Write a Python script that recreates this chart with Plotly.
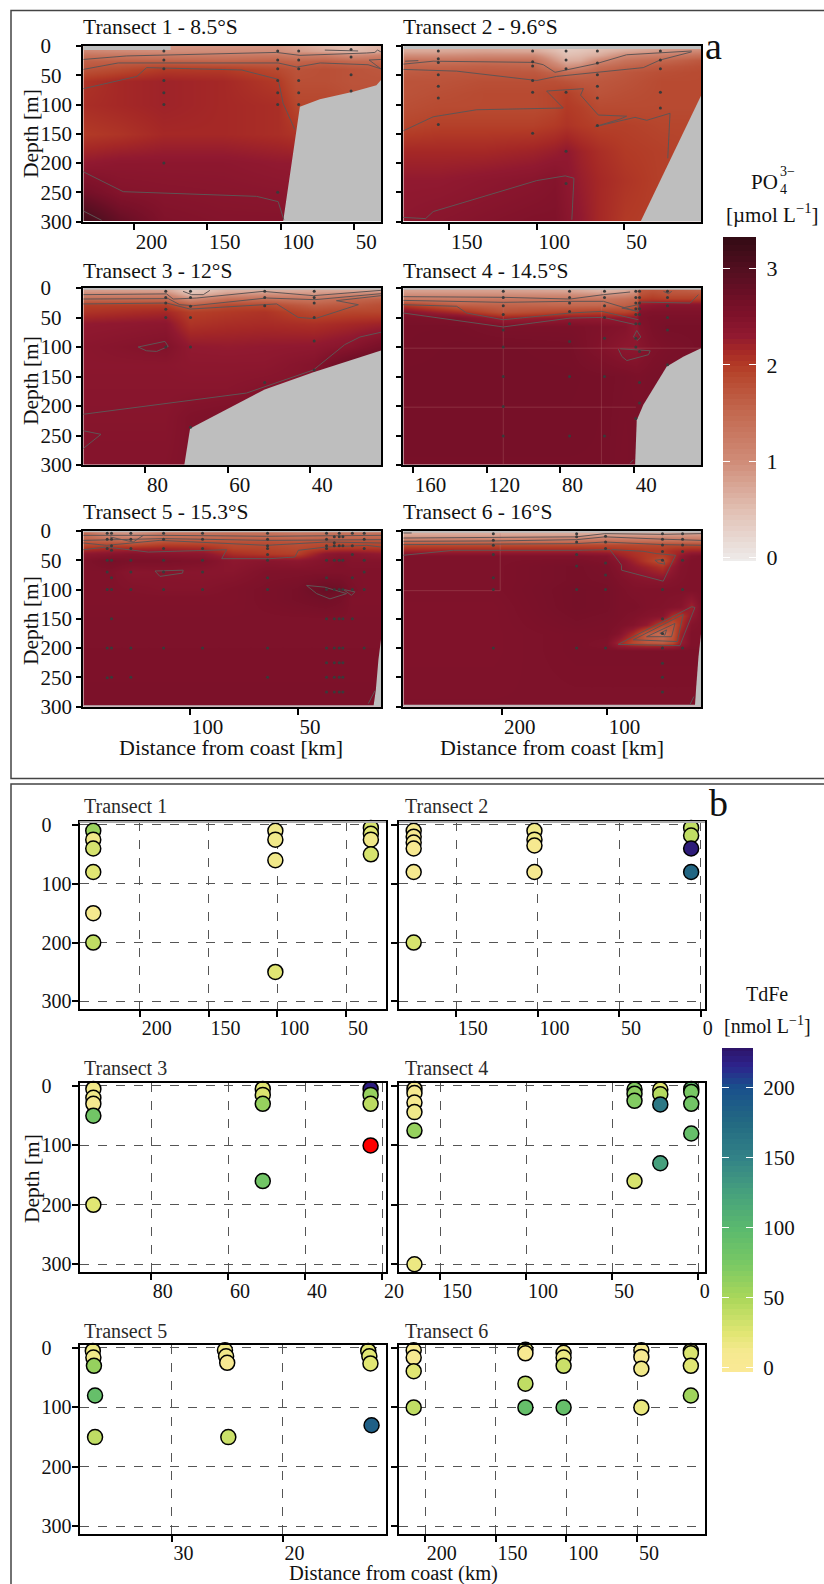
import numpy as np
import plotly.graph_objects as go

W, H = 824, 1584
FONT = "Liberation Serif"

# ---------- Colour scales (value, colour) ----------
PO4_STOPS = [(-0.04, "#eeeceb"), (0.5, "#e1bfb2"), (1.0, "#d08c78"), (1.5, "#c36950"), (1.9, "#b6462d"),
             (2.0, "#b23a26"), (2.15, "#a52826"), (2.3, "#911930"), (2.5, "#80122a"), (2.62, "#761028"),
             (2.8, "#640f24"), (3.0, "#520f20"), (3.33, "#320a14")]
FE_STOPS = [(-3, "#fbe996"), (12, "#f5e98f"), (25, "#e1e673"), (50, "#aad75a"), (75, "#78c864"), (100, "#5ab96e"),
            (125, "#46a07d"), (150, "#328287"), (175, "#236982"), (200, "#19508c"), (215, "#2d238c"),
            (228, "#2d1469")]

# ---------- Transect 1 ----------
T1_KM = [234.5, 210, 180, 140, 102, 90, 70, 52, 31.6]
T1_DEPTH = [0, 8, 15, 25, 40, 60, 100, 150, 200, 250, 300]
T1_PO4 = [
    [.9, .9, .9, .9, .9, .8, .6, .5, .6],
    [1.1, 1.05, 1.0, 1.0, 1.0, .9, .75, .55, .7],
    [1.35, 1.3, 1.25, 1.25, 1.3, 1.2, 1.2, 1.0, 1.15],
    [1.6, 1.6, 1.6, 1.55, 1.6, 1.55, 1.6, 1.5, 1.5],
    [1.75, 1.85, 2.0, 2.0, 1.85, 1.75, 1.8, 1.75, 1.7],
    [2.05, 2.15, 2.2, 2.15, 2.0, 1.8, 1.8, 1.75, 1.75],
    [2.1, 2.15, 2.2, 2.15, 2.1, 1.9, 1.9, 1.8, 1.8],
    [2.0, 2.05, 2.15, 2.15, 2.1, 2.05, 2.0, 2.0, 2.0],
    [2.3, 2.35, 2.35, 2.35, 2.3, 2.3, 2.2, 2.2, 2.2],
    [2.65, 2.45, 2.42, 2.4, 2.38, 2.35, 2.2, 2.2, 2.2],
    [3.2, 2.8, 2.5, 2.45, 2.45, 2.4, 2.2, 2.2, 2.2],
]
T1_BATHY_KM = [31.6, 34.7, 50.6, 73.3, 86.9, 98.3, 31.6]
T1_BATHY_M = [58, 67, 78, 91, 104, 300, 300]
T1_STRIPS = [([234.5, 175, 175, 234.5], [0, 0, 7, 7])]
T1_CONTOURS = [
    ([234.5, 205, 102.8, 86.9, 41.5, 35.8, 34, 31.7], [23, 17, 11, 16, 12, 11, 7, 10]),
    ([234.5, 210.7, 101.7, 89, 73, 40.4, 31.7], [40, 29, 29, 36, 29, 32, 39]),
    ([234.5, 198, 191.4, 126.6, 101.7, 98.3, 90.3], [73, 52, 37, 41, 57, 98, 143]),
    ([69.9, 47.2], [7, 8.5]),
    ([31.7, 39.7, 31.7], [23, 24, 39]),
    ([234.5, 207.3, 116.4, 101.7, 97.8], [215, 249, 257, 266, 297]),
    ([234.5, 222], [282, 298]),
]
T1_STATIONS = [(179.6, [8.5, 24, 39, 59, 80, 100, 200]), (102, [8.5, 24, 39, 59, 80, 100, 250]),
               (87.7, [8.5, 24, 39, 59, 80, 100]), (52, [6, 19, 49, 77])]

# ---------- Transect 2 ----------
T2_KM = [176.3, 156, 130, 102, 90, 83, 75, 65, 50, 29, 6.2]
T2_DEPTH = [4, 8, 15, 25, 35, 45, 60, 80, 105, 135, 180, 230, 300]
T2_PO4 = [
    [.65, .65, .7, .65, .5, .35, .4, .5, .6, .8, .9],
    [.75, .75, .8, .75, .55, .4, .45, .55, .75, .9, 1.1],
    [1.0, 1.0, 1.05, 1.05, .7, .5, .55, .7, 1.05, 1.2, 1.4],
    [1.4, 1.35, 1.4, 1.4, .9, .65, .7, 1.05, 1.35, 1.5, 1.7],
    [1.55, 1.55, 1.6, 1.55, 1.2, .95, 1.05, 1.4, 1.55, 1.7, 1.8],
    [1.65, 1.7, 1.7, 1.7, 1.55, 1.45, 1.5, 1.6, 1.7, 1.8, 1.85],
    [1.75, 1.75, 1.8, 1.8, 1.8, 1.75, 1.7, 1.7, 1.75, 1.85, 1.85],
    [1.75, 1.8, 1.85, 1.85, 1.9, 1.95, 1.85, 1.75, 1.8, 1.85, 1.85],
    [1.8, 1.85, 1.85, 1.85, 1.9, 2.0, 1.95, 1.85, 1.85, 1.85, 1.85],
    [1.9, 1.95, 1.95, 1.95, 2.0, 2.05, 2.0, 1.95, 1.95, 1.9, 1.9],
    [2.15, 2.15, 2.15, 2.2, 2.25, 2.3, 2.2, 2.1, 2.0, 1.95, 1.9],
    [2.3, 2.3, 2.35, 2.4, 2.45, 2.35, 2.25, 2.15, 2.05, 1.95, 1.9],
    [2.35, 2.4, 2.45, 2.5, 2.5, 2.4, 2.3, 2.15, 2.0, 1.95, 1.9],
]
T2_BATHY_KM = [6.2, 40.7, 6.2]
T2_BATHY_M = [85, 300, 300]
T2_STRIPS = [([176.3, 6.2, 6.2, 176.3], [0, 0, 5, 5])]
T2_CONTOURS = [
    ([175.3, 167.7], [26, 25]),
    ([176.3, 159.2, 102, 96.3, 89.6, 65.8, 48.7, 11.5], [31, 26, 28, 32, 45, 30, 15, 8.5]),
    ([176.3, 145.8, 100, 88.7, 39.2, 29.6, 11.5], [40, 43, 59, 52, 37, 24, 10]),
    ([176.3, 159.2, 134.4, 84.9, 94.4, 73.4, 75, 64.9, 48.7, 52.5, 66.8, 43.9, 37.2, 23.9, 25.2],
     [145, 121, 109, 106, 77, 73, 84, 118, 120, 125, 138, 122, 127, 115, 192]),
    ([163.9, 159.2, 100, 83.8, 78.8, 80], [296, 283, 230, 222, 226, 297]),
    ([176.3, 163.9], [293, 295]),
]
T2_STATIONS = [(156.3, [8.5, 22, 28, 49, 69, 89, 134]), (102.4, [8.5, 27, 34, 59, 79, 149]),
               (83.3, [8.5, 24, 39, 79, 180, 235]), (65.4, [8.5, 29, 49, 69, 89, 136]),
               (29.4, [8.5, 24, 39, 79, 106])]

# ---------- Transect 3 ----------
T3_KM = [95, 75, 69, 60, 51, 39, 30, 22.8]
T3_DEPTH = [4, 10, 18, 28, 40, 60, 100, 130, 170, 220, 300]
T3_PO4 = [
    [.85, .8, .35, .65, .65, .75, .75, .75],
    [1.05, 1.05, .5, .85, .95, .9, 1.05, 1.15],
    [1.45, 1.45, 1.0, 1.4, 1.4, 1.3, 1.5, 1.6],
    [1.95, 1.95, 1.6, 1.85, 1.85, 1.6, 1.7, 1.8],
    [2.05, 2.15, 1.95, 2.0, 2.05, 1.85, 1.9, 1.9],
    [2.3, 2.35, 2.05, 2.1, 2.12, 2.08, 2.15, 2.2],
    [2.38, 2.48, 2.3, 2.28, 2.3, 2.32, 2.42, 2.6],
    [2.38, 2.38, 2.35, 2.35, 2.35, 2.45, 2.8, 2.9],
    [2.4, 2.4, 2.4, 2.4, 2.45, 2.45, 2.8, 2.9],
    [2.42, 2.42, 2.5, 2.55, 2.6, 2.6, 2.8, 2.9],
    [2.45, 2.45, 2.5, 2.6, 2.6, 2.6, 2.8, 2.9],
]
T3_BATHY_KM = [22.8, 39.2, 51, 69.1, 70.5, 22.8]
T3_BATHY_M = [106, 143, 172, 238, 300, 300]
T3_STRIPS = [([95, 22.8, 22.8, 95], [0, 0, 3, 3])]
T3_CONTOURS = [
    ([95, 74.8, 73.2, 67.5, 51.4, 39.2, 22.8], [11.3, 10, 18.7, 17, 5.7, 13, 4]),
    ([95, 74.4, 71.6, 68.3, 50.6, 38.8, 22.8], [18.7, 18, 28.3, 30, 17, 19.8, 9.6]),
    ([95, 74.8, 69.1, 48.1, 42.9, 38.8, 28.3, 33.6, 22.8], [27, 25.5, 35.7, 27, 49.8, 52, 28.3, 21.5, 13]),
    ([70.8, 68.7, 65.9, 64.3], [5.7, 11.3, 11.3, 4]),
    ([81.7, 75.2, 74.4, 77.2, 79.7, 81.7], [100, 90.5, 99, 107.5, 106.4, 100]),
    ([95, 55.4, 39.2, 31.6, 27.9, 22.8], [214, 178, 139, 96, 83, 75]),
    ([95, 90.7, 95], [242, 248, 272]),
]
T3_STATIONS = [(75, [5.6, 16, 25.5, 36, 50, 100]), (69, [5.6, 16, 31, 50, 100, 236]),
               (51, [5.6, 16, 30, 160]), (39, [5.6, 16, 25.5, 50, 90, 139])]

# ---------- Transect 4 ----------
T4_KM = [165.3, 136, 111, 75, 56, 45, 39, 37, 30, 21.8, 3.6]
T4_DEPTH = [4, 10, 18, 28, 40, 50, 65, 100, 150, 300]
T4_PO4 = [
    [.8, .8, .8, .75, .6, .7, .9, 1.7, 1.75, 1.7, 1.6],
    [.95, .95, .95, .95, .85, .95, 1.1, 1.75, 1.85, 1.75, 1.75],
    [1.25, 1.25, 1.3, 1.3, 1.3, 1.4, 1.5, 1.95, 2.0, 1.95, 1.95],
    [2.0, 1.6, 1.55, 1.5, 1.5, 1.6, 1.7, 2.3, 2.35, 2.4, 2.4],
    [2.4, 2.1, 1.75, 1.9, 1.95, 1.9, 2.0, 2.45, 2.5, 2.5, 2.5],
    [2.55, 2.5, 2.2, 2.3, 2.3, 2.3, 2.3, 2.5, 2.55, 2.55, 2.55],
    [2.6, 2.6, 2.55, 2.55, 2.5, 2.45, 2.3, 2.45, 2.55, 2.6, 2.6],
    [2.6, 2.62, 2.62, 2.6, 2.45, 2.35, 2.35, 2.4, 2.5, 2.55, 2.6],
    [2.62, 2.62, 2.62, 2.62, 2.6, 2.58, 2.55, 2.55, 2.58, 2.6, 2.6],
    [2.6, 2.6, 2.6, 2.6, 2.6, 2.55, 2.6, 2.6, 2.6, 2.6, 2.6],
]
T4_BATHY_KM = [3.6, 13, 22.2, 27.6, 34.9, 38.5, 39.4, 3.6]
T4_BATHY_M = [102, 116, 133, 161, 198, 224, 300, 300]
T4_STRIPS = [([165.3, 3.6, 3.6, 165.3], [0, 0, 3, 3])]
T4_CONTOURS = [
    ([165.3, 111, 74.7, 56.6, 42.1], [14.7, 15.8, 18.7, 11.3, 6.8]),
    ([165.3, 111, 74.7, 56.6, 38.5], [21, 24.3, 22.6, 22.6, 39.6]),
    ([165.3, 136.3, 130.9, 111, 74.7, 57.5, 37.6], [28.3, 31, 42.4, 53.8, 42.4, 39.6, 53.8]),
    ([165.3, 111, 74.7, 56.6, 39.4], [42.4, 66, 51, 49.8, 62]),
    ([36.7, 9.5, 5], [23.8, 25.5, 11.3]),
    ([24, 21.3, 19.5], [5.7, 9.6, 5.7]),
    ([46.6, 37.6, 37.6, 46.6], [34, 28.3, 39.6, 34]),
    ([40.3, 38.5, 36.3, 38.1, 40.3], [83, 72, 83, 89, 83]),
    ([47.5, 31.2, 32.1, 43.9, 46.6, 48.5], [103, 106.4, 113, 123, 116, 103.6]),
    ([42.1, 40.3], [297, 291]),
]
T4_FAINT = [([165.3, 3.6], [102, 102]), ([165.3, 39], [202, 202]), ([111, 111], [4, 300]), ([57.7, 57.7], [4, 300])]
T4_STATIONS = [(111, [5.6, 16, 30, 45, 71, 100, 150, 201, 251]), (75, [5.6, 16, 25.5, 40, 60.5, 90.5, 150, 251]),
               (56, [5.6, 16, 30, 50, 85, 150, 251]), (39, [5.6, 16, 25.5, 35, 45, 60.5, 85, 100, 221]),
               (37, [5.6, 16, 25.5, 35, 45, 60.5, 107.5, 160, 195]), (21.8, [5.6, 16, 30, 50, 71, 130])]

# ---------- Transect 5 ----------
T5_KM = [149.6, 137, 127, 112, 94, 80, 64, 50, 37, 30, 25, 19, 11.3]
T5_DEPTH = [4, 10, 18, 28, 38, 50, 70, 100, 115, 150, 298]
T5_PO4 = [
    [1.5, 1.0, .9, 1.3, 1.35, 1.4, 1.4, 1.3, 1.35, 1.4, 1.4, 1.35, 1.4],
    [1.5, 1.2, 1.1, 1.4, 1.45, 1.5, 1.5, 1.45, 1.5, 1.5, 1.5, 1.5, 1.5],
    [1.7, 1.65, 1.6, 1.8, 1.8, 1.8, 1.8, 1.75, 1.8, 1.8, 1.8, 1.8, 1.8],
    [2.0, 2.1, 2.1, 2.15, 2.1, 1.9, 1.9, 1.85, 1.95, 2.0, 2.0, 2.0, 2.0],
    [2.35, 2.4, 2.45, 2.4, 2.35, 2.1, 2.0, 1.95, 2.35, 2.4, 2.4, 2.35, 2.3],
    [2.5, 2.6, 2.55, 2.55, 2.5, 2.35, 2.4, 2.35, 2.45, 2.5, 2.45, 2.45, 2.45],
    [2.5, 2.5, 2.4, 2.42, 2.4, 2.4, 2.5, 2.5, 2.5, 2.5, 2.5, 2.5, 2.5],
    [2.5, 2.5, 2.48, 2.45, 2.45, 2.5, 2.55, 2.6, 2.75, 2.7, 2.55, 2.5, 2.5],
    [2.5, 2.5, 2.5, 2.5, 2.5, 2.5, 2.55, 2.6, 2.65, 2.6, 2.5, 2.5, 2.5],
    [2.52, 2.52, 2.52, 2.52, 2.52, 2.52, 2.52, 2.52, 2.52, 2.52, 2.52, 2.52, 2.52],
    [2.55, 2.55, 2.55, 2.55, 2.55, 2.55, 2.55, 2.55, 2.55, 2.55, 2.55, 2.55, 2.55],
]
T5_BATHY_KM = [11.3, 12.5, 13.7, 14.8, 11.3]
T5_BATHY_M = [185, 220, 272, 300, 300]
T5_STRIPS = [([149.6, 11.3, 11.3, 149.6], [0, 0, 2, 2]), ([149.6, 11.3, 11.3, 149.6], [298, 298, 300, 300])]
T5_CONTOURS = [
    ([149.6, 112.4, 64.4, 11.3], [7.4, 7.4, 9, 7.4]),
    ([149.6, 112.4, 64.4, 11.3], [16, 13, 16, 14.8]),
    ([149.6, 138.8, 114, 64.4, 36.6, 11.3], [20.5, 24.5, 16, 24.5, 18.8, 20.5]),
    ([149.6, 138.8, 119.4, 83, 85.3, 62.9, 51.3, 49.7, 36.6, 18, 11.3], [32, 27.4, 36, 32, 47.3, 47.3, 44.5, 33, 27.4, 24.5, 27.4]),
    ([137.2, 126.4, 121.7], [10.3, 18.8, 7.4]),
    ([116.3, 103.2, 103.5, 114, 116.3], [68.4, 67, 72, 77.6, 68.4]),
    ([45.9, 37.4, 27.3, 35, 41.2, 45.9], [93, 96, 107, 116, 107, 93]),
    ([28.8, 23.4, 25, 28.8], [100, 104, 110, 100]),
    ([17.2, 14.1], [295, 273]),
]
T5_STATIONS = [
    (138.5, [4, 14, 30, 50, 70, 100, 200, 251]), (136.5, [4, 14, 25, 33, 50, 80, 100, 150, 200, 250]),
    (127.5, [4, 14, 30, 50, 70, 100, 200, 250]), (112.3, [4, 14, 30, 50, 70, 100, 200]),
    (94.2, [4, 14, 30, 50, 70, 100, 200]), (64, [4, 14, 25, 30, 40, 50, 80, 100, 200, 250]),
    (36.6, [4, 14, 25, 30, 50, 80, 100, 150, 200, 225, 250, 275]), (33, [10, 20, 25, 50, 100, 150, 200, 225, 250, 275]),
    (30.7, [4, 10, 25, 50, 100, 150, 200, 225, 250, 275]), (29, [10, 25, 50, 100, 150, 200, 225, 250, 275]),
    (24.6, [4, 25, 40, 80, 100, 150]), (19.1, [4, 14, 30, 50, 70, 100, 200])]

# ---------- Transect 6 ----------
T6_KM = [294.6, 208.6, 129, 101, 89, 75, 62, 47, 38, 30, 19, 10.2]
T6_DEPTH = [4, 10, 16, 24, 33, 42, 50, 60, 85, 100, 130, 145, 160, 175, 190, 196, 205, 297]
T6_PO4 = [
    [.7, .7, .7, .7, .7, .7, .7, .7, .75, .75, .8, .8],
    [.9, .9, .95, 1.05, 1.05, 1.05, 1.05, 1.05, 1.05, 1.05, 1.05, 1.05],
    [1.35, 1.35, 1.35, 1.4, 1.4, 1.4, 1.4, 1.4, 1.4, 1.4, 1.4, 1.4],
    [1.85, 1.85, 1.85, 1.85, 1.85, 1.85, 1.85, 1.85, 1.85, 1.85, 1.85, 1.85],
    [2.2, 2.2, 2.2, 2.15, 2.1, 2.05, 2.0, 2.0, 2.1, 2.15, 2.2, 2.2],
    [2.5, 2.5, 2.5, 2.45, 2.25, 2.1, 2.0, 1.95, 2.1, 2.3, 2.45, 2.5],
    [2.52, 2.52, 2.55, 2.5, 2.4, 2.2, 2.0, 1.8, 2.15, 2.4, 2.5, 2.5],
    [2.52, 2.52, 2.6, 2.55, 2.45, 2.3, 2.2, 2.05, 2.3, 2.45, 2.5, 2.5],
    [2.52, 2.52, 2.6, 2.58, 2.52, 2.45, 2.42, 2.4, 2.45, 2.48, 2.5, 2.5],
    [2.52, 2.52, 2.62, 2.6, 2.55, 2.5, 2.5, 2.5, 2.5, 2.5, 2.5, 2.5],
    [2.5, 2.5, 2.62, 2.6, 2.55, 2.55, 2.5, 2.48, 2.45, 2.42, 2.2, 2.5],
    [2.5, 2.5, 2.6, 2.58, 2.55, 2.5, 2.45, 2.4, 2.1, 2.0, 2.3, 2.5],
    [2.5, 2.5, 2.58, 2.56, 2.52, 2.45, 2.3, 1.9, 1.75, 2.05, 2.45, 2.5],
    [2.5, 2.5, 2.55, 2.55, 2.45, 2.1, 1.65, 1.4, 1.7, 2.2, 2.5, 2.5],
    [2.5, 2.5, 2.55, 2.5, 2.2, 1.85, 1.7, 1.65, 1.85, 2.25, 2.5, 2.5],
    [2.5, 2.5, 2.55, 2.5, 2.3, 2.2, 2.15, 2.15, 2.2, 2.35, 2.5, 2.5],
    [2.5, 2.5, 2.55, 2.55, 2.55, 2.55, 2.55, 2.55, 2.55, 2.55, 2.55, 2.55],
    [2.52, 2.52, 2.52, 2.52, 2.52, 2.52, 2.52, 2.52, 2.52, 2.52, 2.52, 2.52],
]
T6_BATHY_KM = [10.2, 12.6, 15, 16, 10.2]
T6_BATHY_M = [176, 215, 272, 300, 300]
T6_STRIPS = [([294.6, 10.2, 10.2, 294.6], [0, 0, 3, 3]), ([294.6, 10.2, 10.2, 294.6], [297, 297, 300, 300])]
T6_CONTOURS = [
    ([294.6, 286.6], [3.4, 3.4]),
    ([294.6, 208.6, 129, 102, 46.3, 10.2], [12, 11.4, 10, 4.5, 5.7, 4.5]),
    ([294.6, 208.6, 129, 102, 46.3, 10.2], [17.6, 17, 14.8, 10, 14, 16]),
    ([294.6, 208.6, 129, 102, 46.3, 10.2], [23.3, 22.7, 21.6, 18.8, 23.3, 24.4]),
    ([294.6, 246.8, 129, 97.2, 86.1, 86.1, 46.3, 34.5, 52.6, 65.4, 95.6],
     [41.5, 33, 33, 31.8, 58.5, 67, 85.8, 41.5, 38.6, 34.7, 31.8]),
    ([54.2, 46.3, 44.7, 51, 54.2], [50, 48.3, 56.8, 54.5, 50]),
    ([89.3, 19.2, 16, 30.4, 89.3], [193.8, 129.5, 130.7, 196, 193.8]),
    ([74.9, 27.2, 32.9, 74.9], [186, 142.6, 189, 186]),
    ([62.2, 35.1, 38.3, 62.2], [180.7, 158, 180.7, 180.7]),
    ([49.5, 43.1, 44.7, 49.5], [175, 169, 178, 175]),
    ([20.8, 17], [297, 283]),
]
T6_FAINT = [([294.6, 202], [102, 102]), ([202, 202], [4, 102])]
T6_STATIONS = [(208.6, [4.5, 16, 24.4, 40, 80, 100, 200]), (129, [4.5, 10, 19, 40, 60, 100, 200]),
               (101.4, [9, 19, 30, 54.5, 75, 100, 200]),
               (47, [4.5, 14, 24, 35, 50, 100, 150, 175, 200, 226, 250, 275]),
               (27.8, [4.5, 14, 24, 35, 50, 100, 200])]

# ---------- TdFe samples (km, depth, nmol/L) ----------
FE1_KM = [234, 234, 234, 234, 234, 234, 101.5, 101.5, 101.5, 101.5, 32, 32, 32, 32]
FE1_DEPTH = [10, 25, 40, 80, 150, 200, 10, 25, 60, 250, 5, 15, 25, 50]
FE1_VAL = [58, 15, 30, 25, 12, 40, 15, 15, 15, 25, 30, 25, 15, 30]
FE2_KM = [176, 176, 176, 176, 176, 176, 102, 102, 102, 102, 6, 6, 6, 6]
FE2_DEPTH = [10, 20, 30, 40, 80, 200, 10, 25, 35, 80, 5, 18, 40, 80]
FE2_VAL = [10, 10, 10, 8, 12, 30, 15, 15, 10, 10, 40, 40, 222, 178]
FE3_KM = [95, 95, 95, 95, 95, 51, 51, 51, 51, 23, 23, 23]
FE3_DEPTH = [5, 20, 30, 50, 200, 5, 15, 30, 160, 5, 15, 30]
FE3_VAL = [15, 15, 10, 80, 25, 25, 28, 60, 80, 220, 60, 42]
FE3_HIGH_KM = [23]
FE3_HIGH_DEPTH = [100]
FE4_KM = [165, 165, 165, 165, 165, 165, 37, 37, 37, 37, 22, 22, 22, 22, 4, 4, 4, 4]
FE4_DEPTH = [5, 12, 28, 44, 75, 300, 6, 13, 25, 160, 6, 14, 31, 130, 5, 10, 30, 80]
FE4_VAL = [10, 10, 10, 15, 60, 18, 70, 65, 70, 30, 25, 45, 160, 125, 95, 75, 80, 90]
FE5_KM = [37.1, 37.05, 37.0, 36.9, 36.9, 25.2, 25.1, 25.0, 24.9, 12.3, 12.2, 12.1, 12.0]
FE5_DEPTH = [5, 16, 30, 80, 150, 4, 14, 25, 150, 5, 14, 26, 130]
FE5_VAL = [18, 15, 60, 90, 40, 15, 15, 8, 35, 25, 25, 25, 185]
FE6_KM = [208, 208, 208, 208, 129, 129, 129, 129, 102, 102, 102, 102, 47, 47, 47, 47, 12, 12, 12, 12]
FE6_DEPTH = [4, 16, 39, 100, 3, 9, 60, 100, 8, 16, 30, 100, 4, 15, 35, 100, 5, 9, 30, 80]
FE6_VAL = [10, 10, 25, 40, 25, 8, 40, 90, 15, 18, 35, 90, 10, 10, 15, 20, 25, 28, 25, 55]

# ---------- Titles and ticks ----------
PO4_TITLES = ["Transect 1 - 8.5°S", "Transect 2 - 9.6°S", "Transect 3 - 12°S",
              "Transect 4 - 14.5°S", "Transect 5 - 15.3°S", "Transect 6 - 16°S"]
FE_TITLES = ["Transect 1", "Transect 2", "Transect 3", "Transect 4", "Transect 5", "Transect 6"]
PO4_XTICKS = [[200, 150, 100, 50], [150, 100, 50], [80, 60, 40], [160, 120, 80, 40], [100, 50], [200, 100]]
FE_XTICKS = [[200, 150, 100, 50], [150, 100, 50, 0], [80, 60, 40, 20], [150, 100, 50, 0], [30, 20], [200, 150, 100, 50]]
PO4_YTICKS = [0, 50, 100, 150, 200, 250, 300]
FE_YTICKS = [0, 100, 200, 300]
PO4_CB_TICKS = [0, 1, 2, 3]
FE_CB_TICKS = [0, 50, 100, 150, 200]

# ---------- Page layout (pixels) ----------
PO4_BOX = [(83.3, 381, 46, 221.5), (403.3, 701, 46, 221.5), (83.3, 381, 288, 465),
           (403.3, 701, 288, 465), (83.3, 381, 531, 706.5), (403.3, 701, 531, 706.5)]
PO4_XRANGE = [(234.5, 31.6), (176.3, 6.2), (95, 22.8), (165.3, 3.6), (149.6, 11.3), (294.6, 10.2)]
FE_BOX = [(79.5, 386, 822, 1009), (399, 705, 822, 1009), (79.5, 386, 1083, 1272),
          (399, 705, 1083, 1272), (79.5, 386, 1345, 1534), (399, 705, 1345, 1534)]
FE_XRANGE = [(244, 21), (185, -2.5), (98.6, 19), (174, -4), (38.3, 10.7), (218.4, 2)]


def dom_x(a, b):
    return [a / W, b / W]


def dom_y(top, bot):
    return [1 - bot / H, 1 - top / H]


def norm_scale(stops):
    lo, hi = stops[0][0], stops[-1][0]
    return [[(v - lo) / (hi - lo), c] for v, c in stops]


PO4_SCALE = norm_scale(PO4_STOPS)
FE_SCALE = norm_scale(FE_STOPS)
INK = "#111111"
GREY = "#bebebe"

fig = go.Figure()
layout = {}
annots = []
shapes = []
axn = 0


def text(x, y, s, size, anchor="center", color=INK):
    annots.append(dict(x=x / W, y=1 - y / H, xref="paper", yref="paper", text=s, showarrow=False,
                       xanchor=anchor, yanchor="middle", font=dict(family=FONT, size=size, color=color)))


def y_ticktext(vals):
    width = max(len(str(v)) for v in vals)
    return [str(v) + "\u2002" * (width - len(str(v))) for v in vals]


def axes(box, xrange, xticks, yticks, yrange, tick_size, labels_y, grid, ylen, ystand):
    global axn
    axn += 1
    n = "" if axn == 1 else str(axn)
    common = dict(showline=True, linecolor="black", linewidth=2, mirror=True, ticks="outside",
                  tickcolor="black", tickwidth=1.5, zeroline=False,
                  tickfont=dict(family=FONT, size=tick_size, color=INK))
    gridkw = dict(showgrid=True, gridcolor="#555555", gridwidth=1, griddash="dash") if grid else dict(showgrid=False)
    layout["xaxis" + n] = dict(domain=dom_x(box[0], box[1]), range=list(xrange), anchor="y" + n, tickmode="array",
                               tickvals=xticks, ticktext=[str(v) for v in xticks], ticklen=6,
                               ticklabelposition="outside right", **common, **gridkw)
    layout["yaxis" + n] = dict(domain=dom_y(box[2], box[3]), range=list(yrange), anchor="x" + n, tickmode="array",
                               tickvals=yticks, ticktext=y_ticktext(yticks) if labels_y else None,
                               showticklabels=labels_y, ticklen=ylen, ticklabelstandoff=ystand, **common, **gridkw)
    return ("x" + n, "y" + n)


def grey_polygon(px, py, xa, ya):
    fig.add_trace(go.Scatter(x=px, y=py, mode="lines", fill="toself", fillcolor=GREY,
                             line=dict(width=0, color=GREY), xaxis=xa, yaxis=ya, showlegend=False))


PO4_DATA = [
    (T1_KM, T1_DEPTH, T1_PO4, T1_BATHY_KM, T1_BATHY_M, T1_CONTOURS, T1_STATIONS, [], T1_STRIPS),
    (T2_KM, T2_DEPTH, T2_PO4, T2_BATHY_KM, T2_BATHY_M, T2_CONTOURS, T2_STATIONS, [], T2_STRIPS),
    (T3_KM, T3_DEPTH, T3_PO4, T3_BATHY_KM, T3_BATHY_M, T3_CONTOURS, T3_STATIONS, [], T3_STRIPS),
    (T4_KM, T4_DEPTH, T4_PO4, T4_BATHY_KM, T4_BATHY_M, T4_CONTOURS, T4_STATIONS, T4_FAINT, T4_STRIPS),
    (T5_KM, T5_DEPTH, T5_PO4, T5_BATHY_KM, T5_BATHY_M, T5_CONTOURS, T5_STATIONS, [], T5_STRIPS),
    (T6_KM, T6_DEPTH, T6_PO4, T6_BATHY_KM, T6_BATHY_M, T6_CONTOURS, T6_STATIONS, T6_FAINT, T6_STRIPS),
]

for i, (km, dep, z, bx, by, cont, stations, faint, strips) in enumerate(PO4_DATA):
    xa, ya = axes(PO4_BOX[i], PO4_XRANGE[i], PO4_XTICKS[i], PO4_YTICKS, (300, 0), 21, i % 2 == 0, False, 5, 0)
    fig.add_trace(go.Heatmap(x=km, y=dep, z=z, zmin=PO4_STOPS[0][0], zmax=PO4_STOPS[-1][0], colorscale=PO4_SCALE,
                             zsmooth="best", showscale=False, xaxis=xa, yaxis=ya, hoverinfo="skip"))
    grey_polygon(bx, by, xa, ya)
    for px, py in strips:
        grey_polygon(px, py, xa, ya)
    for fx, fy in faint:
        fig.add_trace(go.Scatter(x=fx, y=fy, mode="lines", line=dict(color="rgba(190,120,120,0.3)", width=1),
                                 xaxis=xa, yaxis=ya, showlegend=False))
    for cx, cy in cont:
        fig.add_trace(go.Scatter(x=cx, y=cy, mode="lines", line=dict(color="#5f5555", width=1),
                                 xaxis=xa, yaxis=ya, showlegend=False))
    sx = [s[0] for s in stations for _ in s[1]]
    sy = [d for s in stations for d in s[1]]
    fig.add_trace(go.Scatter(x=sx, y=sy, mode="markers", marker=dict(size=3, color="#3a3a3a"),
                             xaxis=xa, yaxis=ya, showlegend=False))
    text(PO4_BOX[i][0] - 2, [27, 271, 512][i // 2], PO4_TITLES[i], 21.5, "left")

FE_DATA = [(FE1_KM, FE1_DEPTH, FE1_VAL), (FE2_KM, FE2_DEPTH, FE2_VAL), (FE3_KM, FE3_DEPTH, FE3_VAL),
           (FE4_KM, FE4_DEPTH, FE4_VAL), (FE5_KM, FE5_DEPTH, FE5_VAL), (FE6_KM, FE6_DEPTH, FE6_VAL)]

for i, (km, dep, val) in enumerate(FE_DATA):
    box = FE_BOX[i]
    xa, ya = axes(box, FE_XRANGE[i], FE_XTICKS[i], FE_YTICKS, (313, -5), 20, i % 2 == 0, True, 6, -4)
    fig.add_trace(go.Scatter(x=km, y=dep, mode="markers", cliponaxis=False, xaxis=xa, yaxis=ya, showlegend=False,
                             marker=dict(size=15, color=val, colorscale=FE_SCALE, cmin=FE_STOPS[0][0],
                                         cmax=FE_STOPS[-1][0], line=dict(color="black", width=1.5), opacity=1)))
    if i == 2:
        fig.add_trace(go.Scatter(x=FE3_HIGH_KM, y=FE3_HIGH_DEPTH, mode="markers", cliponaxis=False, xaxis=xa,
                                 yaxis=ya, showlegend=False,
                                 marker=dict(size=15, color="#ff0000", line=dict(color="black", width=1.5))))
    text(box[0] + 2 if i % 2 == 0 else box[0] + 4, [806, 1068, 1331][i // 2], FE_TITLES[i], 20, "left", "#2a2a2a")
    if i < 2:
        shapes.append(dict(type="line", xref="paper", yref="paper", x0=box[0] / W, x1=box[1] / W,
                           y0=1 - box[2] / H, y1=1 - box[2] / H, line=dict(color="#aaaaaa", width=2)))


def colorbar(box, stops, scale, ticks, size, bands, stand):
    global axn
    axn += 1
    n = str(axn)
    lo, hi = stops[0][0], stops[-1][0]
    levels = np.linspace(lo, hi, bands)
    fig.add_trace(go.Heatmap(x=[0, 1], y=levels, z=[[v, v] for v in levels], zmin=lo, zmax=hi, colorscale=scale,
                             showscale=False, xaxis="x" + n, yaxis="y" + n, hoverinfo="skip"))
    layout["xaxis" + n] = dict(domain=dom_x(box[0], box[1]), range=[0, 1], visible=False, anchor="y" + n, fixedrange=True)
    layout["yaxis" + n] = dict(domain=dom_y(box[2], box[3]), range=[lo, hi], side="right", anchor="x" + n,
                               tickmode="array", tickvals=ticks, ticktext=[str(t) for t in ticks],
                               ticks="inside", ticklen=7, tickwidth=1.2, tickcolor="white", mirror="ticks",
                               showline=True, linecolor="rgba(0,0,0,0)", linewidth=1, showgrid=False, zeroline=False,
                               ticklabelstandoff=stand, tickfont=dict(family=FONT, size=size, color=INK))


colorbar((723, 756, 237, 561), PO4_STOPS, PO4_SCALE, PO4_CB_TICKS, 22, 60, 5)
colorbar((722, 753, 1048, 1372), FE_STOPS, FE_SCALE, FE_CB_TICKS, 21, 60, 5)

# Axis labels and headings
for x, y in [(31, 133), (31, 380), (31, 620), (32, 1178)]:
    annots.append(dict(x=x / W, y=1 - y / H, xref="paper", yref="paper", text="Depth [m]", showarrow=False,
                       textangle=-90, xanchor="center", yanchor="middle",
                       font=dict(family=FONT, size=21.5, color=INK)))
text(231, 747, "Distance from coast [km]", 22)
text(552, 747, "Distance from coast [km]", 22)
text(393, 1573, "Distance from coast (km)", 20.5)
text(713, 46, "a", 38)
text(718, 803, "b", 38)
text(749, 182, "PO", 21, "left")
text(778, 172, "3−", 14, "left")
text(778, 190, "4", 14, "left")
text(772, 213, "[µmol L<sup>−1</sup>]", 21)
text(767, 994, "TdFe", 20)
text(767, 1025, "[nmol L<sup>−1</sup>]", 20)

# Frames round the two panels
for y0, y1 in [(10.5, 778.5), (784, 1600)]:
    shapes.append(dict(type="rect", xref="paper", yref="paper", x0=11 / W, x1=830 / W, y0=1 - y0 / H, y1=1 - y1 / H,
                       line=dict(color="#444444", width=1.5)))

fig.update_layout(width=W, height=H, margin=dict(l=0, r=0, t=0, b=0, pad=0, autoexpand=False),
                  paper_bgcolor="white", plot_bgcolor="white",
                  showlegend=False, annotations=annots, shapes=shapes, **layout)
fig.write_html("out.html", config={"displayModeBar": False},
               post_script="document.body.style.margin='0';document.documentElement.style.overflow='hidden';")
